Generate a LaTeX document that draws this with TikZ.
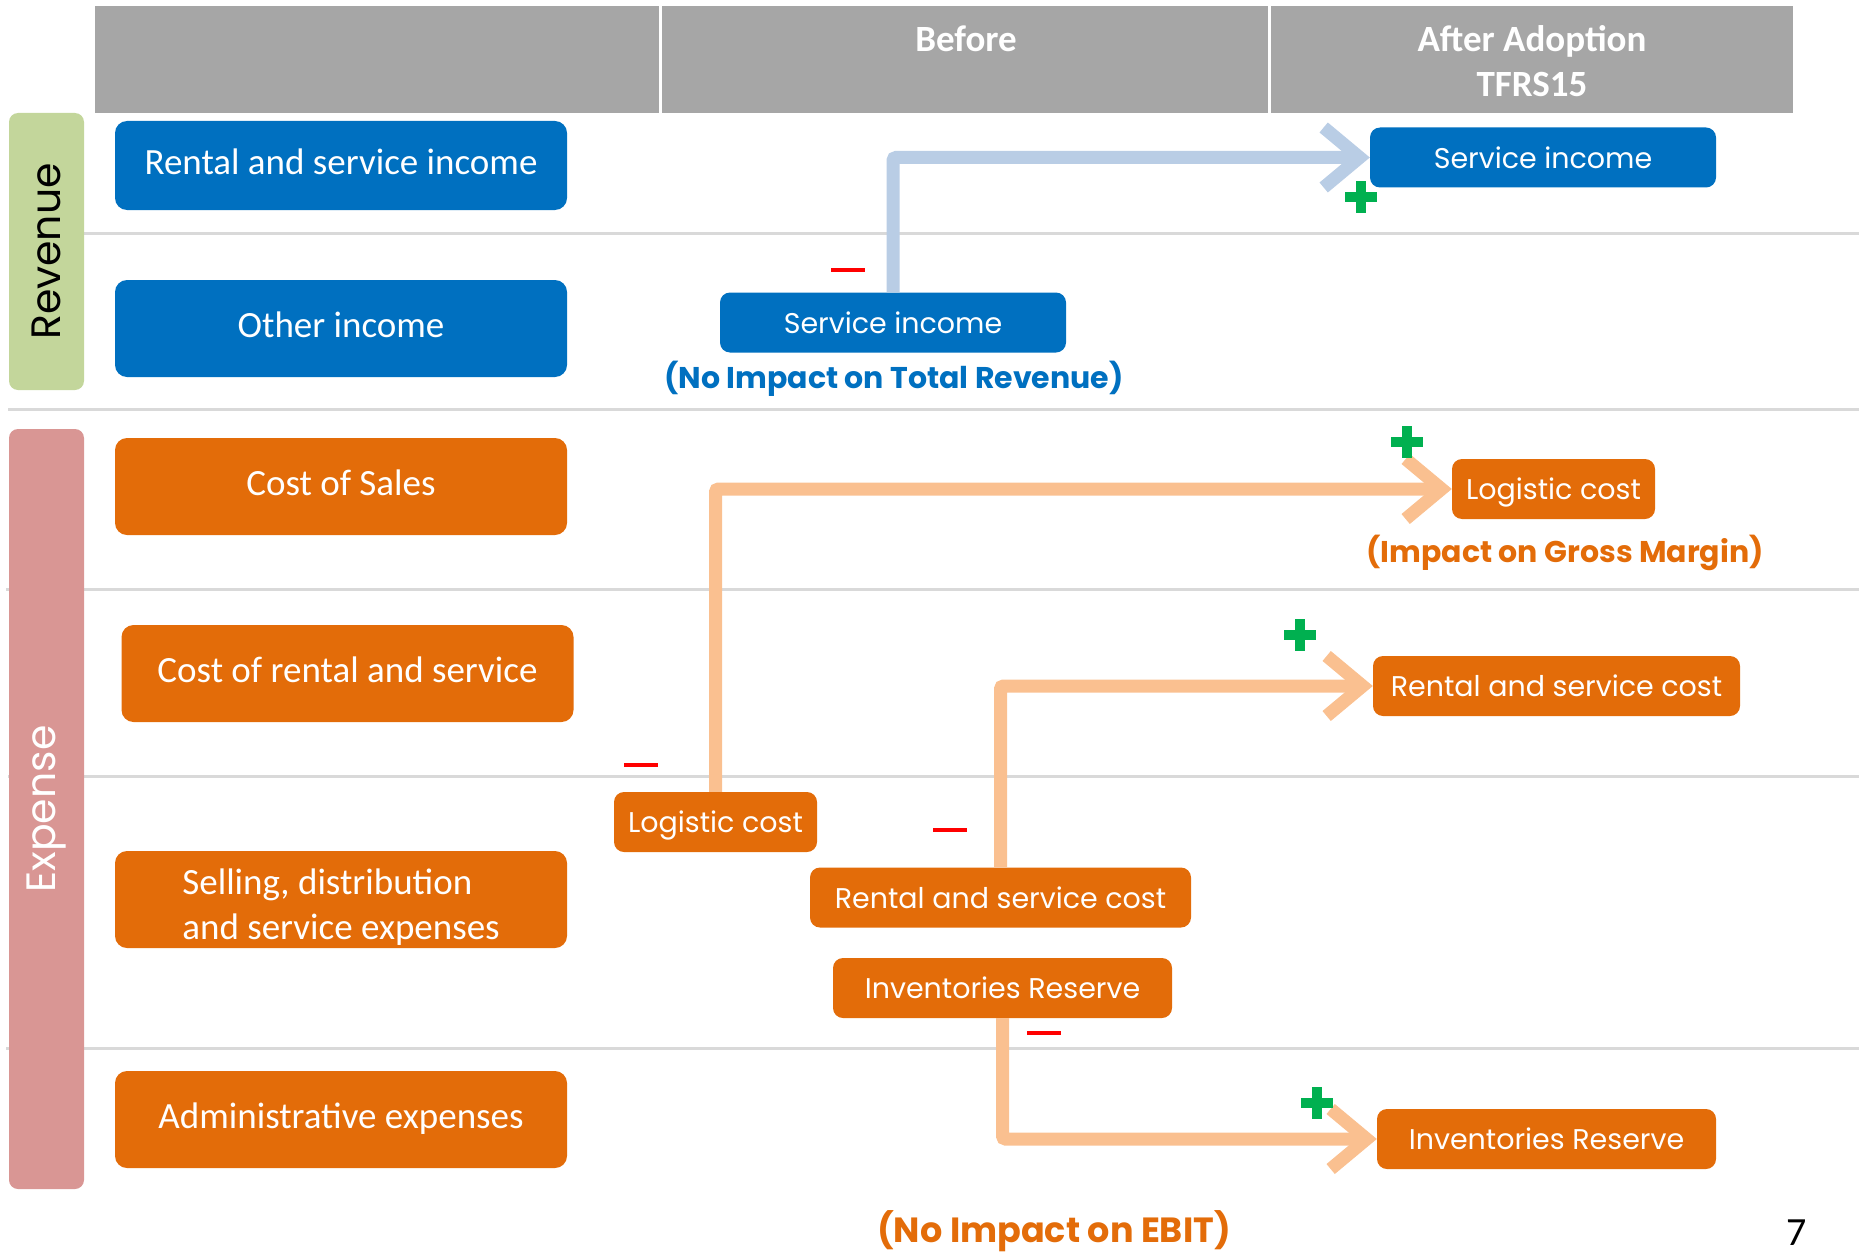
\documentclass[tikz,border=0pt]{standalone}
\usepackage{fontspec}
\setmainfont{Carlito}
\newfontfamily\gothic{Poppins}
\usetikzlibrary{arrows.meta}
\definecolor{hdr}{HTML}{A6A6A6}
\definecolor{blu}{HTML}{0070C0}
\definecolor{org}{HTML}{E36C09}
\definecolor{lblu}{HTML}{B9CDE5}
\definecolor{lorg}{HTML}{FAC090}
\definecolor{grn}{HTML}{00B050}
\definecolor{revg}{HTML}{C3D69B}
\definecolor{expr}{HTML}{D99694}
\definecolor{sepc}{HTML}{D9D9D9}
\definecolor{minusred}{HTML}{FF0000}
\begin{document}
\begin{tikzpicture}[x=1pt,y=-1pt,
  leftbox/.style={rounded corners=12pt, inner sep=0pt, text=white,
    font=\fontsize{37}{45}\selectfont, minimum width=452pt, minimum height=97pt},
  lefttxt/.style={text height=28pt, text depth=10pt},
  midbox/.style={rounded corners=10pt, inner sep=0pt, text=white,
    font=\gothic\fontsize{28.5}{34}\selectfont, minimum height=60pt,
    text height=21pt, text depth=0pt},
  catbox/.style={rounded corners=9pt, inner sep=0pt, minimum height=75pt,
    rotate=90, font=\gothic\fontsize{41}{48}\selectfont},
  hdrtxt/.style={text=white, font=\bfseries\fontsize{37}{45}\selectfont, align=center},
  note/.style={font=\gothic\bfseries\fontsize{30}{36}\selectfont},
  conn/.style={line width=13pt, rounded corners=3pt,
    -{Straight Barb[length=36pt,width=60pt]}},
  sepline/.style={sepc, line width=3pt},
  plusmk/.pic={\fill[grn] (-16,-5) rectangle (16,5); \fill[grn] (-5,-16) rectangle (5,16);},
  minusmk/.pic={\fill[minusred] (-17,-2.2) rectangle (17,2.2);}
]
\useasboundingbox (0,0) rectangle (1859,1252);

% header
\fill[hdr] (95,6) rectangle (1793,113);
\draw[white, line width=3pt] (660,6) -- (660,113);
\draw[white, line width=3pt] (1269,6) -- (1269,113);
\node[hdrtxt] (hb) at (966,39) {Before};
\node[hdrtxt] (ha) at (1532,61) {After Adoption\\TFRS15};

% separators
\draw[sepline] (84,233) -- (1859,233);
\draw[sepline] (8,409) -- (1859,409);
\draw[sepline] (6,589) -- (1859,589);
\draw[sepline] (8,776) -- (1859,776);
\draw[sepline] (6,1048) -- (1859,1048);

% category boxes
\node[catbox, fill=revg, text=black, minimum width=277pt] (rev) at (46.5,251.5) {Revenue};
\node[catbox, fill=expr, text=white, minimum width=760pt] (exp) at (46.5,809) {Expense};

% left boxes
\node[leftbox, lefttxt, fill=blu, minimum height=89pt] (rsi) at (341,165.5) {Rental and service income};
\node[leftbox, lefttxt, fill=blu] (oi) at (341,328.5) {Other income};
\node[leftbox, lefttxt, fill=org] (cos) at (341,486.5) {Cost of Sales};
\node[leftbox, lefttxt, fill=org] (crs) at (347.5,673.5) {Cost of rental and service};
\node[leftbox, fill=org] (sde) at (341,899.5) {\raisebox{-15pt}[0pt][0pt]{\begin{tabular}{@{}l@{}}Selling, distribution\\and service expenses\end{tabular}}};
\node[leftbox, lefttxt, fill=org] (adm) at (341,1119.5) {Administrative expenses};

% before boxes
\node[midbox, fill=blu, minimum width=346pt] (sib) at (893,322.5) {Service income};
\node[midbox, fill=org, minimum width=203pt] (lcb) at (715.5,822) {Logistic cost};
\node[midbox, fill=org, minimum width=381pt] (rsb) at (1000.5,897.5) {Rental and service cost};
\node[midbox, fill=org, minimum width=339pt] (irb) at (1002.5,988) {Inventories Reserve};

% after boxes
\node[midbox, fill=blu, minimum width=346pt] (sia) at (1543,157.5) {Service income};
\node[midbox, fill=org, minimum width=203pt] (lca) at (1553.5,489) {Logistic cost};
\node[midbox, fill=org, minimum width=367pt] (rsa) at (1556.5,686) {Rental and service cost};
\node[midbox, fill=org, minimum width=339pt] (ira) at (1546.5,1139) {Inventories Reserve};

% connectors
\draw[conn, lblu] (sib.north) |- (sia.west);
\draw[conn, lorg] (lcb.north) |- (lca.west);
\draw[conn, lorg] (rsb.north) |- (rsa.west);
\draw[conn, lorg] (irb.south) |- (ira.west);

% notes
\node[note, text=blu] (n1) at (894,379) {(No Impact on Total Revenue)};
\node[note, text=org] (n2) at (1565,553) {(Impact on Gross Margin)};
\node[note, text=org, font=\gothic\bfseries\fontsize{35}{42}\selectfont] (n3) at (1054,1231) {(No Impact on EBIT)};
\node[inner sep=0pt, font=\fontsize{40}{48}\selectfont] (pg) at (1797,1233) {7};

% plus / minus marks
\pic at (1361,197) {plusmk};
\pic at (1407,442) {plusmk};
\pic at (1300,635) {plusmk};
\pic at (1317,1103) {plusmk};
\pic at (848,270) {minusmk};
\pic at (641,765) {minusmk};
\pic at (950,830) {minusmk};
\pic at (1044,1033) {minusmk};
\end{tikzpicture}
\end{document}
